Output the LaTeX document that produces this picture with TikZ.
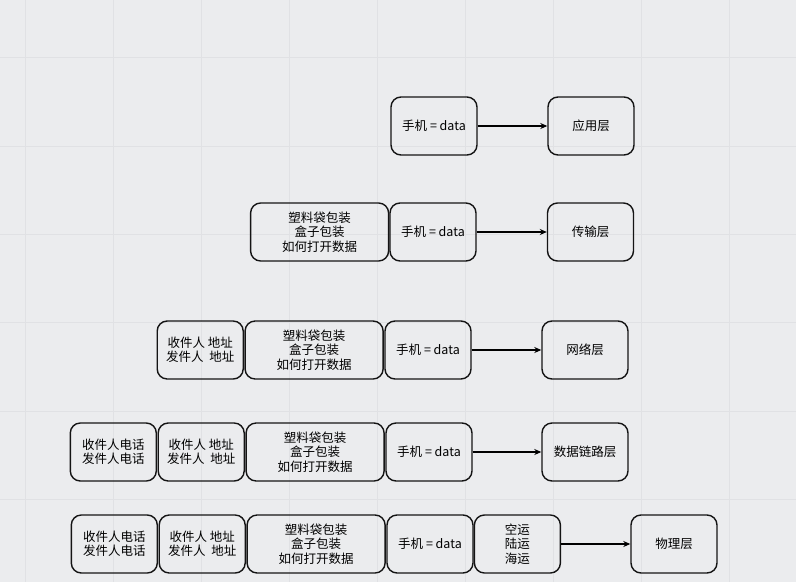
\documentclass[tikz,border=0pt]{standalone}
\usepackage{fontspec}
\newfontfamily\cjk{Noto Sans CJK SC}
\usetikzlibrary{arrows.meta,positioning}
\definecolor{canvasgrey}{RGB}{235,236,238}
\definecolor{gridgrey}{RGB}{224,225,228}
\definecolor{inkblack}{RGB}{20,20,20}

\begin{document}
\begin{tikzpicture}[
    x=1pt, y=-1pt,
    layerbox/.style={rectangle, draw=inkblack, line width=1.4pt,
        minimum width=86pt, minimum height=58pt, rounded corners=10pt,
        align=center, inner sep=2pt,
        font=\cjk\fontsize{12.5}{14.5}\selectfont},
    widebox/.style={layerbox, minimum width=138pt},
    >={Stealth[length=7pt,width=6pt]}
]
% canvas and grid
\fill[canvasgrey] (0,0) rectangle (796,582);
\useasboundingbox (0,0) rectangle (796,582);
\foreach \gx in {25,113,201,289,377,465,553,641,729}
  \draw[gridgrey, line width=0.8pt] (\gx,0) -- (\gx,582);
\foreach \gy in {57,146,234,322,411,499}
  \draw[gridgrey, line width=0.8pt] (0,\gy) -- (796,\gy);

% row 1
\node[layerbox] (dataA) at (434,126) {手机 = data};
\node[layerbox] (appl) at (591,126) {应用层};
\draw[->, line width=1.4pt] (dataA) -- (appl);

% row 2
\node[layerbox] (dataB) at (433,232) {手机 = data};
\node[widebox, left=0pt of dataB] (packB) {塑料袋包装\\盒子包装\\如何打开数据};
\node[layerbox] (trans) at (590.5,232) {传输层};
\draw[->, line width=1.4pt] (dataB) -- (trans);

% row 3
\node[layerbox] (dataC) at (428,350) {手机 = data};
\node[widebox, left=0.5pt of dataC] (packC) {塑料袋包装\\盒子包装\\如何打开数据};
\node[layerbox, left=0.5pt of packC] (addrC) {收件人 地址\\发件人\ \ 地址};
\node[layerbox] (netw) at (585,350) {网络层};
\draw[->, line width=1.4pt] (dataC) -- (netw);

% row 4
\node[layerbox] (dataD) at (429,452) {手机 = data};
\node[widebox, left=0.5pt of dataD] (packD) {塑料袋包装\\盒子包装\\如何打开数据};
\node[layerbox, left=0.5pt of packD] (addrD) {收件人 地址\\发件人\ \ 地址};
\node[layerbox, left=0.5pt of addrD] (telD) {收件人电话\\发件人电话};
\node[layerbox] (link) at (585,452) {数据链路层};
\draw[->, line width=1.4pt] (dataD) -- (link);

% row 5
\node[layerbox] (dataE) at (430,544) {手机 = data};
\node[widebox, left=0.5pt of dataE] (packE) {塑料袋包装\\盒子包装\\如何打开数据};
\node[layerbox, left=0.5pt of packE] (addrE) {收件人 地址\\发件人\ \ 地址};
\node[layerbox, left=0.5pt of addrE] (telE) {收件人电话\\发件人电话};
\node[layerbox, right=0pt of dataE] (ship) {空运\\陆运\\海运};
\node[layerbox] (phys) at (674,544) {物理层};
\draw[->, line width=1.4pt] (ship) -- (phys);
\end{tikzpicture}
\end{document}
